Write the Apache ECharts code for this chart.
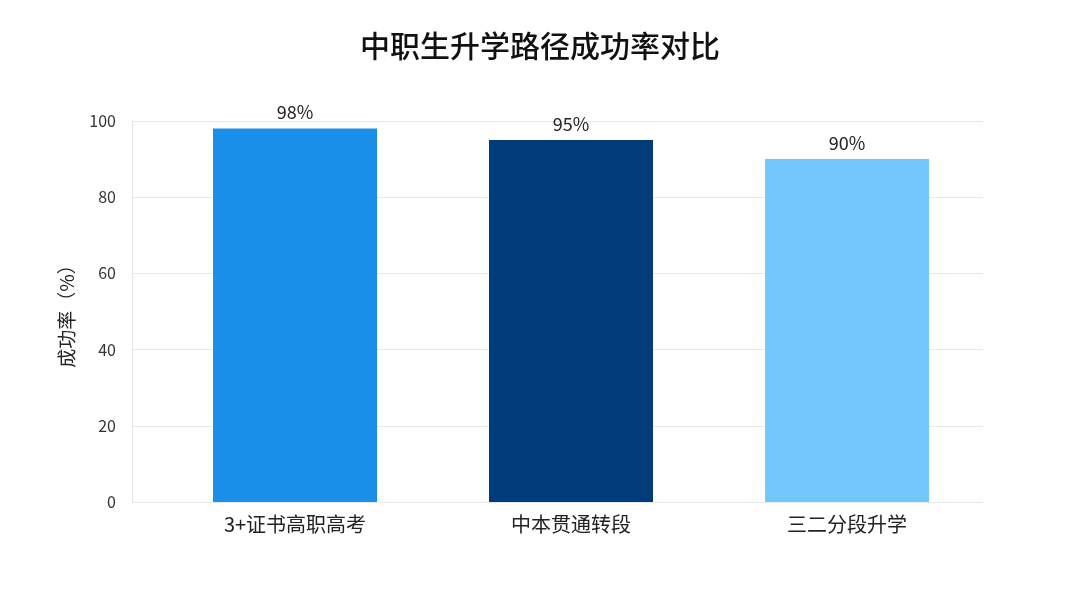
<!DOCTYPE html>
<html><head><meta charset="utf-8">
<script src="https://cdn.jsdelivr.net/npm/echarts@6/dist/echarts.min.js"></script>
<style>html,body{margin:0;padding:0;background:#fff}#c{width:1080px;height:608px}</style>
</head><body><div id="c"></div>
<script>
const categories = ['3+证书高职高考', '中本贯通转段', '三二分段升学'];
const rates = [98, 95, 90];
const barColors = ['#1a8fea', '#003b7a', '#72c7fb'];
const yTicks = [0, 20, 40, 60, 80, 100];

const chart = echarts.init(document.getElementById('c'));
const font = '"Noto Sans CJK SC", "Noto Sans", sans-serif';
chart.setOption({
  backgroundColor: '#ffffff',
  title: {
    text: '中职生升学路径成功率对比', left: 'center', top: 26,
    textStyle: { fontFamily: font, fontSize: 30, fontWeight: 500, color: '#111' }
  },
  grid: [
    { left: 132, right: 97, top: 121, bottom: 106 },
    { left: 157, right: 95, top: 121, bottom: 106 }
  ],
  xAxis: [
    { gridIndex: 0, type: 'category', data: [''], show: false },
    { gridIndex: 1, type: 'category', data: categories,
      axisLine: { show: false }, axisTick: { show: false },
      axisLabel: { fontFamily: font, fontSize: 20, color: '#222', margin: 12 } }
  ],
  yAxis: [
    { gridIndex: 0, type: 'value', min: yTicks[0], max: yTicks[yTicks.length - 1], interval: 20,
      name: '成功率（%）', nameLocation: 'middle', nameGap: 56, nameRotate: 90,
      nameTextStyle: { fontFamily: font, fontSize: 19, color: '#222' },
      axisLine: { show: true, lineStyle: { color: '#e6e6e6' } }, axisTick: { show: false },
      axisLabel: { fontFamily: font, fontSize: 16, color: '#333', margin: 16 },
      splitLine: { lineStyle: { color: '#e8e8e8' } } },
    { gridIndex: 1, type: 'value', min: 0, max: 100, interval: 20, show: false,
      splitLine: { show: false } }
  ],
  series: [
    { type: 'bar', xAxisIndex: 0, yAxisIndex: 0, data: [], silent: true },
    { type: 'bar', xAxisIndex: 1, yAxisIndex: 1, barWidth: 164,
      data: rates.map((v, i) => ({ value: v, itemStyle: { color: barColors[i] } })),
      label: { show: true, position: 'top', distance: 7, formatter: '{c}%',
        fontFamily: font, fontSize: 18, color: '#222' } }
  ]
});
</script></body></html>
